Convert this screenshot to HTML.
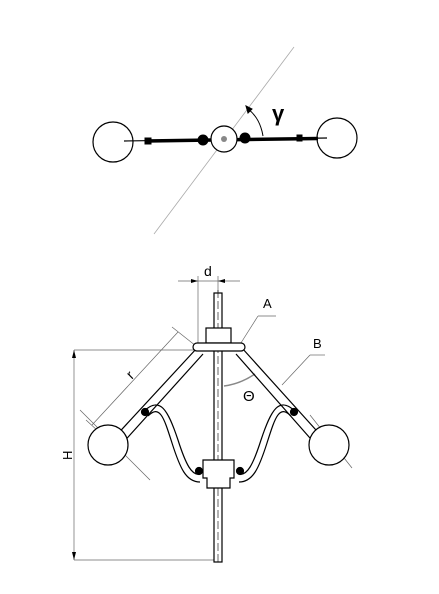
<!DOCTYPE html>
<html><head><meta charset="utf-8"><style>
html,body{margin:0;padding:0;background:#fff;width:439px;height:594px;overflow:hidden}
svg{display:block}
text{font-family:"Liberation Sans",sans-serif}
</style></head><body>
<svg width="439" height="594" viewBox="0 0 439 594">
<g fill="none" stroke="#000">
<line x1="154" y1="234" x2="294" y2="47" stroke="#aaa" stroke-width="0.8"/>
<circle cx="113" cy="142" r="20" stroke-width="1.2"/>
<circle cx="337" cy="138" r="20" stroke-width="1.2"/>
<line x1="124" y1="141" x2="327" y2="138" stroke-width="1.2"/>
<line x1="146" y1="141" x2="318" y2="138.5" stroke-width="3.5"/>
<rect x="145" y="138" width="6" height="6" fill="#000"/>
<rect x="297" y="135" width="5" height="6" fill="#000"/>
<circle cx="203" cy="140" r="5" fill="#000"/>
<circle cx="245" cy="138" r="5" fill="#000"/>
<circle cx="224" cy="139" r="13" fill="#fff" stroke-width="1.2"/>
<circle cx="224" cy="139" r="3" fill="#888" stroke="none"/>
<path d="M248 109 Q260 118 263 136" stroke-width="1"/>
<path d="M246 106 L252 109 L248 113 Z" fill="#000"/>
</g>
<text x="272" y="121" font-family="Liberation Serif,serif" font-weight="bold" font-size="22">γ</text>
<g fill="none" stroke="#000" stroke-width="1.2">
<g stroke="#666" stroke-width="0.7">
<line x1="74" y1="350" x2="195" y2="350"/>
<line x1="74" y1="560" x2="215" y2="560"/>
<line x1="74" y1="350" x2="74" y2="560"/>
<line x1="198" y1="276" x2="198" y2="345"/>
<line x1="218" y1="276" x2="218" y2="292"/>
<line x1="178" y1="281" x2="240" y2="281"/>
<line x1="92" y1="425" x2="178" y2="332"/>
<line x1="172" y1="327" x2="196" y2="346"/>
<line x1="86" y1="420" x2="98" y2="431"/>
<line x1="239" y1="346" x2="258" y2="316"/><line x1="258" y1="316" x2="276" y2="316"/>
<line x1="282" y1="385" x2="310" y2="355"/><line x1="310" y1="355" x2="325" y2="355"/>
<line x1="80" y1="410" x2="150" y2="480"/><line x1="310" y1="415" x2="352" y2="468"/>
</g>
<path d="M74 350 l-2 8 l4 0 Z M74 560 l-2 -8 l4 0 Z M198 281 l-7 -2 l0 4 Z M218 281 l7 -2 l0 4 Z" fill="#000" stroke="none"/>
<path d="M224 386 Q240 384 255 374" stroke="#888" stroke-width="1.5"/>
<rect x="214" y="293" width="8" height="269" fill="#fff"/>
<line x1="218" y1="290" x2="218" y2="565" stroke-width="0.6" stroke-dasharray="8 3"/>
<path d="M197 348 L112 440 M203 354 L120 446"/>
<path d="M242 348 L325 440 M236 354 L317 446"/>
<path d="M143 412 C160 395 168 410 178 440 C186 465 192 476 200 474 M148 416 C160 404 164 418 172 443 C180 468 186 482 200 482"/>
<path d="M296 412 C279 395 271 410 261 440 C253 465 247 476 239 474 M291 416 C279 404 275 418 267 443 C259 468 253 482 239 482"/>
<circle cx="145" cy="412" r="3.5" fill="#000"/><circle cx="294" cy="412" r="3.5" fill="#000"/>
<circle cx="199" cy="471" r="3.5" fill="#000"/><circle cx="240" cy="471" r="3.5" fill="#000"/>
<circle cx="108" cy="445" r="20" fill="#fff"/>
<circle cx="329" cy="445" r="20" fill="#fff"/>
<rect x="206" y="328" width="25" height="15" fill="#fff"/>
<rect x="193" y="343" width="52" height="8" rx="4" fill="#fff"/>
<path d="M203 460 H234 V478 H230 V488 H207 V478 H203 Z" fill="#fff"/>
</g>
<text x="204" y="276" font-size="14">d</text>
<text x="263" y="308" font-size="13">A</text>
<text x="313" y="348" font-size="13">B</text>
<text x="126" y="378" font-size="14" transform="rotate(-45 131 372)">r</text>
<text x="243" y="401" font-size="15">Θ</text>
<text x="64" y="460" font-size="13" transform="rotate(-90 68 456)">H</text>
</svg>
</body></html>
